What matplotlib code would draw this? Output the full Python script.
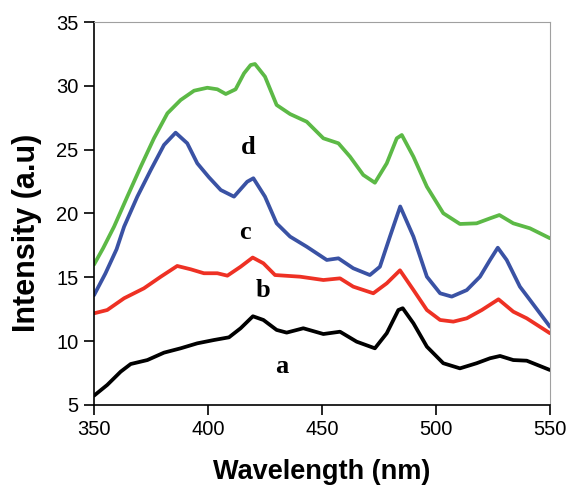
import matplotlib
matplotlib.use("Agg")
import matplotlib.pyplot as plt

# Curve a (black)
wl_a = [350, 355.8, 361.7, 366.1, 373.4, 380.7, 388, 395.3, 402.6, 409.2, 414.3, 419.7, 424.3, 430.1,
        434.5, 441.8, 450.6, 457.9, 465.2, 473.2, 478.4, 483.5, 485.4, 490.1, 496, 503.2, 510.5,
        517.8, 523.7, 528.1, 533.9, 539.8, 550]
int_a = [5.73, 6.57, 7.61, 8.21, 8.52, 9.1, 9.44, 9.83, 10.09, 10.3, 11.01, 11.95, 11.66, 10.88,
         10.67, 11.01, 10.56, 10.74, 9.96, 9.44, 10.62, 12.44, 12.58, 11.4, 9.57, 8.27, 7.87,
         8.27, 8.66, 8.84, 8.52, 8.47, 7.74]

# Curve b (red)
wl_b = [350, 355.8, 363.2, 371.9, 379.3, 386.5, 392.4, 398.2, 404.1, 408.5, 414.3, 419.6, 424.3,
        429.4, 440.4, 450.6, 457.9, 463.7, 472.5, 478.4, 484.2, 490.1, 496, 501.8, 507.6, 513.5,
        520.1, 527.4, 533.9, 539.8, 550]
int_b = [12.18, 12.44, 13.36, 14.14, 15.05, 15.89, 15.63, 15.32, 15.32, 15.13, 15.83, 16.55, 16.1,
         15.18, 15.05, 14.79, 14.92, 14.27, 13.75, 14.53, 15.55, 14.01, 12.44, 11.66, 11.53, 11.79,
         12.44, 13.28, 12.31, 11.79, 10.62]

# Curve c (blue)
wl_c = [350, 355, 359.9, 363.2, 369, 374.9, 380.7, 385.8, 390.9, 395.3, 400.4, 405.6, 411.4, 417.2,
        419.9, 425, 430.1, 436, 443.3, 452.1, 457.2, 463.7, 471, 475.4, 479.8, 484.3, 490.1, 496,
        501.8, 506.9, 513.5, 519.3, 523.7, 527.1, 531, 536.8, 541.2, 550]
int_c = [13.6, 15.3, 17.2, 18.97, 21.32, 23.41, 25.37, 26.33, 25.5, 23.93, 22.84, 21.84, 21.32, 22.49,
         22.76, 21.32, 19.23, 18.19, 17.4, 16.36, 16.49, 15.71, 15.18, 15.83, 18.19, 20.55, 18.19, 15.05,
         13.75, 13.49, 14.0, 15.05, 16.36, 17.32, 16.36, 14.27, 13.23, 11.13]

# Curve d (green)
wl_d = [350, 354, 358.8, 364.6, 370.5, 376.3, 382.2, 388, 393.9, 399.7, 404.1, 407.8, 412.1, 415.8,
        418.7, 420.6, 425, 430.1, 436, 443.3, 450.6, 457.2, 462.3, 468.1, 473.2, 478.4, 482.8, 485,
        490.1, 496, 503.2, 510.5, 517.8, 523.7, 527.8, 533.9, 541.2, 550]
int_d = [16.0, 17.28, 18.97, 21.32, 23.67, 25.89, 27.85, 28.89, 29.62, 29.85, 29.73, 29.36, 29.73, 30.98,
         31.63, 31.71, 30.72, 28.5, 27.79, 27.19, 25.89, 25.5, 24.45, 23.02, 22.41, 23.93, 25.89, 26.15,
         24.45, 22.1, 20.02, 19.18, 19.23, 19.62, 19.88, 19.23, 18.84, 18.06]

labels = ["a", "b", "c", "d"]
label_pos_wl = [432.5, 424, 416, 417.5]
label_pos_int = [8.0, 14.0, 18.5, 25.2]

fig = plt.figure(figsize=(5.69, 4.88), dpi=100)
ax = fig.add_axes([0.1652, 0.1701, 0.8014, 0.7848])

lw = 2.7
kw = dict(lw=lw, solid_joinstyle="round", solid_capstyle="round")
ax.plot(wl_a, int_a, color="black", **kw)
ax.plot(wl_b, int_b, color="#ee3124", **kw)
ax.plot(wl_c, int_c, color="#3a52a4", **kw)
ax.plot(wl_d, int_d, color="#5cb946", **kw)

for t, x, y in zip(labels, label_pos_wl, label_pos_int):
    ax.text(x, y, t, family="Liberation Serif", fontweight="bold", fontsize=19,
            ha="center", va="center")

ax.set_xlim(350, 550)
ax.set_ylim(5, 35)
ax.set_xticks([350, 400, 450, 500, 550])
ax.set_yticks([5, 10, 15, 20, 25, 30, 35])

for s in ["top", "right"]:
    ax.spines[s].set_color("#a0a0a0")
    ax.spines[s].set_linewidth(0.8)
for s in ["left", "bottom"]:
    ax.spines[s].set_color("black")
    ax.spines[s].set_linewidth(1.2)

ax.tick_params(direction="out", length=7, width=1.2, labelsize=14.5, pad=4)
for lab in ax.get_xticklabels() + ax.get_yticklabels():
    lab.set_family("Liberation Sans")

ax.set_xlabel("Wavelength (nm)", family="Liberation Sans", fontweight="bold", fontsize=19.5, labelpad=14)
ax.set_ylabel("Intensity (a.u)", family="Liberation Sans", fontweight="bold", fontsize=22, labelpad=11)
ax.yaxis.set_label_coords(-0.113, 0.45)

fig.savefig("out.png", dpi=100)
